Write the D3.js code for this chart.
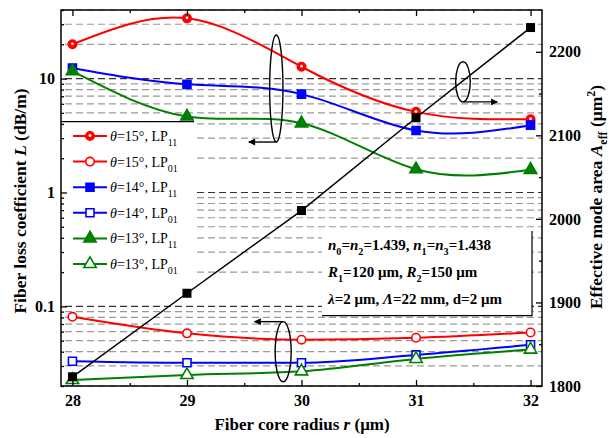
<!DOCTYPE html>
<html>
<head>
<meta charset="utf-8">
<title>Fiber loss coefficient and effective mode area</title>
<style>
    body { margin: 0; background: #fff; }
    svg text { font-family: "Liberation Serif", "Times New Roman", serif; }
    .tick text { font-size: 16px; font-weight: bold; fill: #000; }
    .axis path, .axis line { stroke: #000; stroke-width: 1.3; }
</style>
<script src="https://d3js.org/d3.v7.min.js"></script>
</head>
<body>
<svg id="chart" width="609" height="438"></svg>
<script>
    // values
    var radius = [28, 29, 30, 31, 32];
    var loss15LP11 = [20, 33.8, 12.7, 5.1, 4.4];
    var loss15LP01 = [0.081, 0.058, 0.051, 0.053, 0.059];
    var loss14LP11 = [12.4, 8.9, 7.3, 3.5, 3.9];
    var loss14LP01 = [0.033, 0.032, 0.032, 0.0375, 0.046];
    var loss13LP11 = [11.6, 4.65, 4.05, 1.6, 1.58];
    var loss13LP01 = [0.0226, 0.025, 0.0269, 0.0346, 0.0418];
    var aeff = [1811, 1911, 2010, 2121, 2229];

    var xTicks = [28, 29, 30, 31, 32];
    var lossTicks = [0.1, 1, 10];
    var aeffTicks = [1800, 1900, 2000, 2100, 2200];

    var series = [
        {angle: "15", mode: "11", values: loss15LP11, color: "#ff0000", shape: "circle", filled: true},
        {angle: "15", mode: "01", values: loss15LP01, color: "#ff0000", shape: "circle", filled: false},
        {angle: "14", mode: "11", values: loss14LP11, color: "#0000ff", shape: "square", filled: true},
        {angle: "14", mode: "01", values: loss14LP01, color: "#0000ff", shape: "square", filled: false},
        {angle: "13", mode: "11", values: loss13LP11, color: "#008000", shape: "triangle", filled: true},
        {angle: "13", mode: "01", values: loss13LP01, color: "#008000", shape: "triangle", filled: false}
    ];

    var margin = {top: 10, right: 67, bottom: 52, left: 61};
    var width = 609 - margin.left - margin.right;
    var height = 438 - margin.top - margin.bottom;

    var x = d3.scaleLinear().domain([27.9, 32.1]).range([0, width]);
    var yL = d3.scaleLog().domain([0.02, 40]).range([height, 0]);
    var yR = d3.scaleLinear().domain([1800, 2250]).range([height, 0]);

    var svg = d3.select("#chart")
        .append("g")
        .attr("transform", "translate(" + margin.left + "," + margin.top + ")");

    // dashed log grid
    svg.selectAll(".grid")
        .data(yL.ticks())
        .enter().append("line")
        .attr("x1", 4)
        .attr("x2", width)
        .attr("y1", function(d) { return yL(d); })
        .attr("y2", function(d) { return yL(d); })
        .attr("stroke", function(d) { return lossTicks.indexOf(d) >= 0 ? "#333" : "#999"; })
        .attr("stroke-width", 1.2)
        .attr("stroke-dasharray", "7,4");

    // legend and parameter boxes (white, cover the grid)
    svg.append("rect").attr("x", 0).attr("y", 111.7).attr("width", 133).attr("height", 163).attr("fill", "#fff");
    svg.append("line").attr("x1", 0).attr("x2", 133).attr("y1", 111.7).attr("y2", 111.7)
        .attr("stroke", "#000").attr("stroke-width", 1.3);

    svg.append("rect").attr("x", 261).attr("y", 221).attr("width", 210).attr("height", 85).attr("fill", "#fff");
    svg.append("path").attr("d", "M261,305.7H471V221")
        .attr("fill", "none").attr("stroke", "#000").attr("stroke-width", 1.2);

    // loss curves
    series.forEach(function(s) {
        var line = d3.line()
            .x(function(d, i) { return x(radius[i]); })
            .y(function(d) { return yL(d); })
            .curve(s.mode === "11" ? d3.curveNatural : d3.curveMonotoneX);
        svg.append("path")
            .datum(s.values)
            .attr("d", line)
            .attr("fill", "none")
            .attr("stroke", s.color)
            .attr("stroke-width", 2);
    });

    // effective area line
    var aeffLine = d3.line()
        .x(function(d, i) { return x(radius[i]); })
        .y(function(d) { return yR(d); });
    svg.append("path").datum(aeff).attr("d", aeffLine)
        .attr("fill", "none").attr("stroke", "#000").attr("stroke-width", 1.5);

    function symbolFor(shape) {
        if (shape === "circle") return d3.symbol().type(d3.symbolCircle).size(56)();
        if (shape === "square") return d3.symbol().type(d3.symbolSquare).size(64)();
        return d3.symbol().type(d3.symbolTriangle).size(66)();
    }

    function drawMarker(g, s, cx, cy) {
        g.append("path")
            .attr("d", symbolFor(s.shape))
            .attr("transform", "translate(" + cx + "," + cy + ")")
            .attr("fill", s.filled ? s.color : "#fff")
            .attr("stroke", s.color)
            .attr("stroke-width", 1.6);
        if (s.shape === "circle" && s.filled) {
            g.append("circle").attr("cx", cx).attr("cy", cy - 0.5).attr("r", 1.4).attr("fill", "#fff");
        }
    }

    series.forEach(function(s) {
        s.values.forEach(function(v, i) {
            drawMarker(svg, s, x(radius[i]), yL(v));
        });
    });

    svg.selectAll(".aeff")
        .data(aeff)
        .enter().append("rect")
        .attr("x", function(d, i) { return x(radius[i]) - 4.5; })
        .attr("y", function(d) { return yR(d) - 4.5; })
        .attr("width", 9)
        .attr("height", 9)
        .attr("fill", "#000");

    // legend
    var legend = svg.append("g").attr("transform", "translate(0,126)");
    series.forEach(function(s, i) {
        var row = legend.append("g").attr("transform", "translate(0," + (i * 25.6) + ")");
        row.append("line").attr("x1", 12).attr("x2", 46).attr("y1", 0).attr("y2", 0)
            .attr("stroke", s.color).attr("stroke-width", 2);
        drawMarker(row, s, 29, 0);
        var t = row.append("text").attr("x", 49).attr("y", 5).attr("font-size", 14);
        t.append("tspan").attr("font-style", "italic").text("θ");
        t.append("tspan").text("=" + s.angle + "°, LP");
        t.append("tspan").attr("font-size", 10).attr("dy", 5).text(s.mode);
    });

    // parameter text
    function richText(g, xPos, yPos, parts, size) {
        var t = g.append("text").attr("x", xPos).attr("y", yPos)
            .attr("font-size", size).attr("font-weight", "bold");
        var shift = 0;
        parts.forEach(function(p) {
            var span = t.append("tspan").text(p[0]);
            var want = 0;
            if (p[1] === "i") span.attr("font-style", "italic");
            if (p[1] === "sub") { want = 5; span.attr("font-size", size * 0.68); }
            if (p[1] === "sup") { want = -7; span.attr("font-size", size * 0.68); }
            if (want !== shift) { span.attr("dy", want - shift); shift = want; }
        });
        return t;
    }

    richText(svg, 267, 240, [["n", "i"], ["0", "sub"], ["=", ""], ["n", "i"], ["2", "sub"], ["=1.439, ", ""],
        ["n", "i"], ["1", "sub"], ["=", ""], ["n", "i"], ["3", "sub"], ["=1.438", ""]], 15);
    richText(svg, 267, 267, [["R", "i"], ["1", "sub"], ["=120 μm, ", ""], ["R", "i"], ["2", "sub"], ["=150 μm", ""]], 15);
    richText(svg, 267, 294, [["λ", "i"], ["=2 μm, ", ""], ["Λ", "i"], ["=22 mm, d=2 μm", ""]], 15);

    // axes
    var minorX = [28.5, 29.5, 30.5, 31.5];
    var minorL = yL.ticks().filter(function(d) { return lossTicks.indexOf(d) < 0; });
    var minorR = [1850, 1950, 2050, 2150];

    svg.append("rect").attr("width", width).attr("height", height)
        .attr("fill", "none").attr("stroke", "#000").attr("stroke-width", 1.5);

    svg.append("g").attr("class", "axis").attr("transform", "translate(0," + height + ")")
        .call(d3.axisBottom(x).tickValues(xTicks).tickSize(-6).tickPadding(9).tickFormat(d3.format("d")))
        .select(".domain").remove();
    svg.append("g").attr("class", "axis").attr("transform", "translate(0," + height + ")")
        .call(d3.axisBottom(x).tickValues(minorX).tickSize(-3).tickFormat(""))
        .select(".domain").remove();
    svg.append("g").attr("class", "axis")
        .call(d3.axisTop(x).tickValues(xTicks).tickSize(-6).tickFormat(""))
        .select(".domain").remove();
    svg.append("g").attr("class", "axis")
        .call(d3.axisTop(x).tickValues(minorX).tickSize(-3).tickFormat(""))
        .select(".domain").remove();

    svg.append("g").attr("class", "axis")
        .call(d3.axisLeft(yL).tickValues(lossTicks).tickSize(-6).tickPadding(6).tickFormat(function(d) { return d; }))
        .select(".domain").remove();
    svg.append("g").attr("class", "axis")
        .call(d3.axisLeft(yL).tickValues(minorL).tickSize(-3).tickFormat(""))
        .select(".domain").remove();

    svg.append("g").attr("class", "axis").attr("transform", "translate(" + width + ",0)")
        .call(d3.axisRight(yR).tickValues(aeffTicks).tickSize(-6).tickPadding(7).tickFormat(d3.format("d")))
        .select(".domain").remove();
    svg.append("g").attr("class", "axis").attr("transform", "translate(" + width + ",0)")
        .call(d3.axisRight(yR).tickValues(minorR).tickSize(-3).tickFormat(""))
        .select(".domain").remove();

    // axis titles
    var xt = svg.append("text").attr("x", 241).attr("y", 420).attr("text-anchor", "middle")
        .attr("font-size", 17).attr("font-weight", "bold");
    xt.append("tspan").text("Fiber core radius ");
    xt.append("tspan").attr("font-style", "italic").text("r");
    xt.append("tspan").text(" (μm)");

    var yt = svg.append("text").attr("transform", "translate(-35,191) rotate(-90)")
        .attr("text-anchor", "middle").attr("font-size", 17.5).attr("font-weight", "bold");
    yt.append("tspan").text("Fiber loss coefficient ");
    yt.append("tspan").attr("font-style", "italic").text("L");
    yt.append("tspan").text(" (dB/m)");

    var rt = richText(svg, 0, 0, [["Effective mode area ", ""], ["A", "i"], ["eff", "sub"], [" (μm", ""], ["2", "sup"], [")", ""]], 17.5);
    rt.attr("transform", "translate(541,187) rotate(-90)").attr("text-anchor", "middle");

    // ellipses with arrows, placed in axis units
    var marks = [
        {cx: 29.78, cy: 2156, rx: 0.058, ry: 64, ay: 2092, ax: 29.54},
        {cx: 31.41, cy: 2164, rx: 0.064, ry: 24, ay: 2140, ax: 31.71},
        {cx: 29.84, cy: 1841, rx: 0.07, ry: 36, ay: 1877, ax: 29.59}
    ];
    svg.append("defs").append("marker")
        .attr("id", "head").attr("viewBox", "0 0 10 10").attr("refX", 9).attr("refY", 5)
        .attr("markerWidth", 8).attr("markerHeight", 7).attr("markerUnits", "userSpaceOnUse")
        .attr("orient", "auto")
        .append("path").attr("d", "M0,0L10,5L0,10Z").attr("fill", "#000");

    marks.forEach(function(m) {
        var cx = x(m.cx), cy = yR(m.cy);
        svg.append("ellipse").attr("cx", cx).attr("cy", cy)
            .attr("rx", x(m.cx + m.rx) - cx).attr("ry", yR(m.cy - m.ry) - cy)
            .attr("fill", "none").attr("stroke", "#000").attr("stroke-width", 1.4);
        svg.append("line").attr("x1", cx).attr("y1", yR(m.ay)).attr("x2", x(m.ax)).attr("y2", yR(m.ay))
            .attr("stroke", "#000").attr("stroke-width", 1.4).attr("marker-end", "url(#head)");
    });
</script>
</body>
</html>
